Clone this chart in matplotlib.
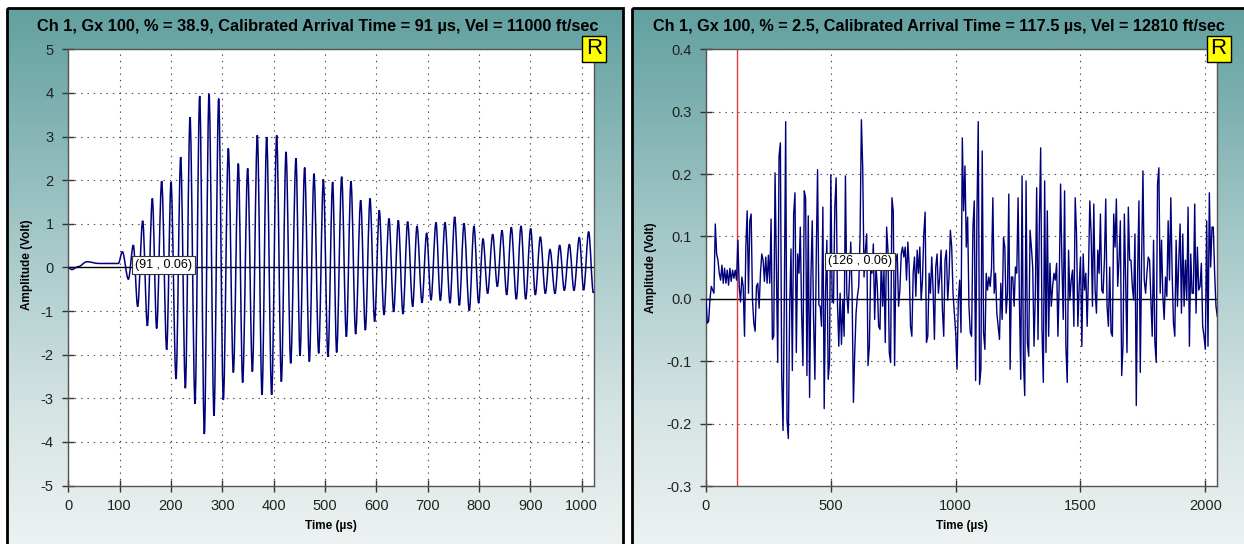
import numpy as np
import matplotlib
matplotlib.use("Agg")
import matplotlib.pyplot as plt
from matplotlib.colors import LinearSegmentedColormap
from matplotlib.patches import Rectangle, PathPatch
from matplotlib.path import Path

plt.rcParams['font.family'] = ['Liberation Sans', 'DejaVu Sans']
plt.rcParams['axes.unicode_minus'] = False

# ---------------- data ----------------
left_title = "Ch 1, Gx 100, % = 38.9, Calibrated Arrival Time = 91 µs, Vel = 11000 ft/sec"
right_title = "Ch 1, Gx 100, % = 2.5, Calibrated Arrival Time = 117.5 µs, Vel = 12810 ft/sec"

# turning points (peaks / troughs) of the left trace
left_time_us = [0, 6.6, 20, 35.8, 60, 97.5,
                105.3, 117, 126.7, 135.1, 144.9, 154, 163.7, 172.1, 181.9, 191.6,
                200.1, 209.8, 218.9, 228, 237.1, 246.8, 255.9, 265, 274.1, 283.8,
                292.9, 302, 311.7, 321.5, 331.2, 339.6, 349.4, 358.5, 368.2, 377.3,
                386.4, 396.1, 405.9, 415, 424.1, 433.2, 443.5, 451.3,
                460.4, 469.5, 478.6, 487.7, 496.8, 505.8, 514.9, 522.7, 532.5, 541.6,
                550.6, 559.7, 569.5, 578.6, 587.7, 596.7, 605.8, 614.9, 624.7, 633.8,
                642.8, 651.9, 661, 670.8, 679.2, 689, 698, 706.5, 716.2, 724.7,
                733.8, 743.5, 752.6, 761.7, 770.8, 781.1, 790.2, 799.3, 807.8, 816.8,
                826.6, 835.7, 844.8, 853.9, 862.9, 872.7, 881.8, 890.9, 900.6, 909.7,
                919.5, 929.2, 938.3, 948, 957.1, 966.2, 976, 985, 995.4, 1003.8,
                1013.6, 1022.7, 1024]
left_amp_volt = [0, -0.05, 0.02, 0.13, 0.09, 0.09,
                 0.36, -0.27, 0.51, -0.9, 1.07, -1.34, 1.58, -1.4, 1.98, -1.89,
                 1.96, -2.56, 2.53, -2.77, 3.44, -3.13, 3.93, -3.82, 3.98, -3.40,
                 3.87, -3.04, 2.73, -2.41, 2.38, -2.64, 2.27, -2.39, 3.03, -2.92,
                 2.99, -2.92, 3.03, -2.62, 2.65, -2.2, 2.5, -2.03,
                 2.29, -2.16, 2.15, -1.97, 2.02, -2.05, 1.96, -1.95, 2.08, -1.59,
                 1.98, -1.53, 1.54, -1.44, 1.58, -1.24, 1.31, -1.09, 1.12, -1.02,
                 1.08, -1.07, 1.05, -0.9, 0.95, -0.81, 0.79, -0.75, 1.03, -0.76,
                 1.03, -0.82, 1.16, -0.87, 1.01, -0.99, 0.95, -0.82, 0.66, -0.6,
                 0.76, -0.44, 0.85, -0.63, 0.92, -0.73, 0.95, -0.73, 0.89, -0.63,
                 0.7, -0.6, 0.41, -0.6, 0.51, -0.53, 0.53, -0.53, 0.69, -0.52,
                 0.82, -0.58, -0.55]

right_record_us = 2048
right_amp_volt = [
    0, -0.039, -0.036, 0.0, 0.02, 0.014, 0.009, 0.12, 0.072, 0.062,
    0.041, 0.03, 0.054, 0.025, 0.049, 0.025, 0.046, 0.022, 0.049, 0.028,
    0.046, 0.033, 0.046, 0.03, 0.094, 0.02, -0.005, 0.035, 0.02, -0.06,
    0.083, 0.141, 0.009, 0.125, 0.136, -0.002, -0.039, -0.052, 0.02, 0.025,
    -0.015, 0.041, 0.072, 0.062, 0.028, 0.067, 0.025, 0.07, 0.025, 0.128,
    -0.065, -0.060, 0.202, 0.051, -0.102, 0.229, 0.250, -0.123, -0.211, 0.009,
    0.284, -0.195, -0.224, -0.017, 0.080, -0.115, 0.136, 0.170, -0.086, 0.072,
    0.041, 0.115, -0.023, -0.107, 0.173, 0.162, -0.123, 0.133, -0.158, 0.035,
    0.125, -0.033, -0.129, 0.065, 0.207, -0.010, -0.012, -0.044, 0.147, -0.176,
    0.009, 0.094, -0.129, -0.102, 0.199, -0.002, -0.007, 0.147, 0.194, -0.007,
    -0.076, 0.009, -0.073, -0.002, -0.060, 0.197, 0.009, -0.023, 0.030, 0.091,
    0.009, -0.166, -0.086, -0.023, 0.004, 0.020, 0.099, 0.287, 0.210, 0.035,
    0.078, 0.104, -0.107, -0.076, 0.046, 0.041, 0.088, -0.033, 0.051, 0.020,
    -0.044, -0.049, 0.067, -0.012, 0.046, -0.070, 0.115, 0.078, -0.086, -0.102,
    0.162, 0.141, -0.107, 0.062, 0.072, -0.012, 0.014, 0.072, 0.083, 0.067,
    0.083, 0.030, 0.091, 0.051, -0.044, -0.060, 0.041, 0.067, 0.004, 0.078,
    0.041, 0.083, -0.002, 0.030, 0.104, 0.139, -0.070, -0.060, 0.041, 0.009,
    0.067, 0.014, -0.065, 0.051, 0.072, 0.009, 0.035, 0.078, -0.017, -0.060,
    0.062, 0.078, -0.002, 0.035, 0.110, 0.083, 0.009, -0.023, -0.054, -0.113,
    -0.002, 0.030,
    -0.054, 0.258, 0.141, 0.213, 0.083, 0.131, -0.012, -0.054, -0.060, 0.115,
    0.157, -0.131, 0.131, 0.284, -0.137, -0.113, 0.237, -0.054, -0.081, 0.041,
    0.014, 0.035, 0.020, 0.049, 0.162, 0.009, 0.041, -0.023, -0.044, -0.065,
    0.025, -0.033, 0.099, 0.083, -0.023, 0.009, 0.168, -0.113, 0.035, 0.035,
    -0.012, 0.051, 0.041, 0.162, -0.002, -0.129, 0.197, -0.097, -0.155, 0.189,
    -0.070, -0.092, 0.110, 0.083, 0.051, -0.076, 0.009, 0.178, -0.065, 0.120,
    0.242, -0.049, -0.134, 0.189, -0.086, 0.141, -0.060, 0.057, -0.012, 0.020,
    0.041, 0.030, 0.057, -0.060, 0.030, 0.184, 0.057, -0.033, 0.173, -0.076,
    -0.134, 0.078, -0.002, 0.030, 0.046, -0.044, 0.162, 0.104, -0.044, 0.020,
    0.067, -0.076, 0.072, 0.014, 0.041, -0.044, 0.041, 0.157, 0.104, -0.012,
    0.152, 0.014, -0.023, 0.078, 0.041, 0.136, 0.014, 0.009, 0.062, 0.160,
    -0.012, -0.044, 0.051, -0.054, -0.060, 0.136, 0.083, 0.160, 0.020, 0.062,
    0.125, -0.123, -0.076, 0.136, 0.030, -0.086, 0.147, 0.062, 0.062, 0.020,
    -0.002, 0.104, -0.171, 0.041, 0.157, -0.118, 0.062, 0.205, 0.030, 0.009,
    0.041, 0.067, 0.062, -0.002, -0.060, 0.094, -0.070, -0.102, 0.184, 0.210,
    0.009, 0.094, 0.004, -0.033, 0.035, 0.004, 0.125, 0.030, 0.162, 0.041,
    -0.039, -0.060, 0.094, -0.012, 0.062, 0.120, -0.023, 0.104, -0.012, 0.062,
    -0.002, 0.147, -0.076, 0.072, 0.009, 0.009, 0.152, -0.023, 0.083, 0.014,
    0.020, 0.057, -0.044, -0.060, -0.081, 0.125, -0.076, 0.170, 0.051, 0.115,
    0.115, 0.041, -0.012, -0.028]

left_cursor = (91, 0.06)
right_cursor = (126, 0.06)
right_marker_us = 126

left_xticks = [0, 100, 200, 300, 400, 500, 600, 700, 800, 900, 1000]
left_yticks = [-5, -4, -3, -2, -1, 0, 1, 2, 3, 4, 5]
right_xticks = [0, 500, 1000, 1500, 2000]
right_yticks = [-0.3, -0.2, -0.1, 0.0, 0.1, 0.2, 0.3, 0.4]

# ---------------- figure ----------------
W, H = 1244, 544
fig = plt.figure(figsize=(W / 100, H / 100), dpi=100)
fig.patch.set_facecolor('white')


def fx(px):
    return px / W


def fy(py):
    return 1 - py / H


bg = fig.add_axes([0, 0, 1, 1])
bg.set_zorder(-5)
bg.axis('off')
cmap = LinearSegmentedColormap.from_list(
    'panel', [(0.0, '#62a0a0'), (0.45, '#a9caca'), (0.75, '#d6e4e4'), (1.0, '#eef2f2')])
grad = np.linspace(0, 1, 256).reshape(-1, 1)
for (x0, x1) in [(7, 623), (632, 1260)]:
    bg.imshow(grad, cmap=cmap, extent=[x0, x1, 550, 8], aspect='auto',
              interpolation='bilinear', zorder=0)
    bg.add_patch(Rectangle((x0, 8), x1 - x0, 560, fill=False,
                           edgecolor='black', lw=2.0, zorder=2))
bg.set_xlim(0, W)
bg.set_ylim(H, 0)

ax1 = fig.add_axes([fx(68.3), fy(485.5), fx(594 - 68.3), (485.5 - 49.3) / H])
ax2 = fig.add_axes([fx(706), fy(486), fx(1217.3 - 706), (486 - 49.3) / H])

line_color = '#00007a'

# left trace: smooth curve through the turning points (flat tangent at each)
verts = [(left_time_us[0], left_amp_volt[0])]
codes = [Path.MOVETO]
for i in range(len(left_time_us) - 1):
    t0, v0 = left_time_us[i], left_amp_volt[i]
    t1, v1 = left_time_us[i + 1], left_amp_volt[i + 1]
    d = (t1 - t0) / 3.0
    verts += [(t0 + d, v0), (t1 - d, v1), (t1, v1)]
    codes += [Path.CURVE4] * 3
ax1.add_patch(PathPatch(Path(verts, codes), fill=False, edgecolor=line_color,
                        lw=1.1, zorder=3))

right_time_us = np.linspace(0, right_record_us, len(right_amp_volt))
ax2.plot(right_time_us, right_amp_volt, color=line_color, lw=1.0, zorder=3)

for ax, xt, yt, xmax, ylim in [
        (ax1, left_xticks, left_yticks, 1024, (-5, 5)),
        (ax2, right_xticks, right_yticks, right_record_us, (-0.3, 0.4))]:
    ax.set_facecolor('white')
    ax.set_xlim(0, xmax)
    ax.set_ylim(*ylim)
    ax.set_xticks(xt)
    ax.set_yticks(yt)
    ax.grid(True, linestyle=(0, (1.2, 4.5)), color='#444444', lw=0.8)
    ax.axhline(0, color='black', lw=1.0, zorder=2)
    for s in ax.spines.values():
        s.set_color('#555555')
        s.set_linewidth(1.0)
    ax.tick_params(direction='inout', length=9, width=1, color='#333333',
                   labelsize=10.5, labelcolor='#222222')
    ax.tick_params(axis='x', pad=5)
    ax.tick_params(axis='y', pad=6)

ax2.yaxis.set_major_formatter(matplotlib.ticker.FormatStrFormatter('%.1f'))
ax2.axvline(right_marker_us, color='#e03a3a', lw=1.0, zorder=2)

# cursor read-out boxes
box = dict(boxstyle='square,pad=0.22', fc='white', ec='#333333', lw=0.8)
ax1.text(130, left_cursor[1], f"({left_cursor[0]} , {left_cursor[1]:.2f})",
         ha='left', va='center', fontsize=9, bbox=box, zorder=5)
ax2.text(488, right_cursor[1], f"({right_cursor[0]} , {right_cursor[1]:.2f})",
         ha='left', va='center', fontsize=9, bbox=box, zorder=5)

# titles and labels
fig.text(fx(318), fy(27), left_title, ha='center', va='center',
         fontsize=11.8, fontweight='bold')
fig.text(fx(939), fy(27), right_title, ha='center', va='center',
         fontsize=11.7, fontweight='bold')
for cx in (331, 961.5):
    fig.text(fx(cx), fy(526), 'Time (µs)', ha='center', va='center',
             fontsize=8.5, fontweight='bold')
for cx, cy in ((27, 265), (651, 268)):
    fig.text(fx(cx), fy(cy), 'Amplitude (Volt)', ha='center', va='center',
             rotation=90, fontsize=8.5, fontweight='bold')

# "R" badges
for x0 in (582, 1206.5):
    fig.patches.append(Rectangle((fx(x0), fy(62)), fx(24), 26 / H,
                                 transform=fig.transFigure, fc='#ffff00',
                                 ec='black', lw=1.0, zorder=6))
    fig.text(fx(x0 + 12), fy(49), 'R', ha='center', va='center',
             fontsize=16, zorder=7)

fig.savefig('out.png', dpi=100)
